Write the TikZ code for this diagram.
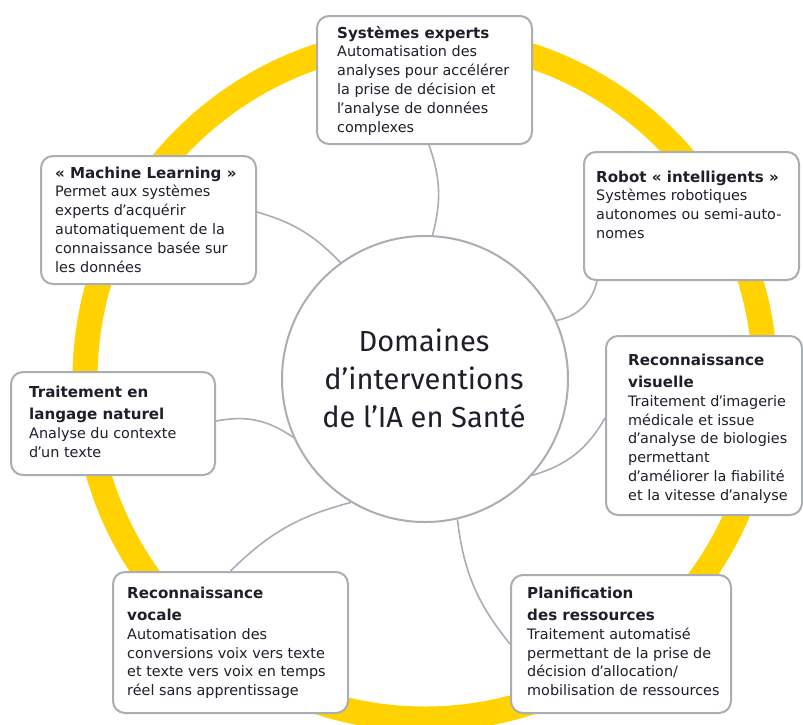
\documentclass[tikz,border=0pt]{standalone}
\usepackage{fontspec}
\setmainfont{DejaVu Sans}
\newfontfamily\centerfont{Fira Sans}
\definecolor{eyyellow}{HTML}{FFD200}
\definecolor{linegray}{HTML}{A8AEB4}
\definecolor{txt}{HTML}{1F1F2B}
\newcommand\ttl[1]{\hbox{\bfseries\fontsize{15.1}{18}\selectfont #1}}
\newcommand\bdy[1]{\hbox{\fontsize{14.4}{18}\selectfont #1}}
\newcommand\gapT{\baselineskip=22.4pt\relax}
\newcommand\gapB{\baselineskip=18.8pt\relax}
\newcommand\cln[1]{\hbox to 0pt{\hss #1\hss}}
\newcommand\ap{\kern-0.07em’\kern-0.05em}
\begin{document}
\begin{tikzpicture}[x=1pt,y=1pt,
  box/.style={draw=linegray, line width=2pt, rounded corners=12pt, fill=white, inner sep=0pt},
  link/.style={draw=linegray, line width=1.6pt},
  desc/.style={anchor=base west, inner sep=0pt, text=txt}
]
\useasboundingbox (0,0) rectangle (803,-724);
\fill[white] (0,0) rectangle (803,-724);
\draw[eyyellow, line width=25pt] (425,-379) circle (340pt);

\node[circle, draw=linegray, line width=2pt, fill=white, minimum size=286pt, inner sep=0pt] (c) at (425,-379) {};
\node[anchor=base, inner sep=0pt, text=txt, font=\centerfont\fontsize{29}{38}\selectfont] (ct) at (424,-351)
  {\vtop{\baselineskip=38pt\cln{Domaines}\cln{d’interventions}\cln{de l’IA en Santé}}};

\node[box, minimum width=215pt, minimum height=128pt] (se) at (424.5,-80) {};
\node[box, minimum width=215pt, minimum height=128pt] (ml) at (148.5,-220) {};
\node[box, minimum width=215pt, minimum height=128pt] (rob) at (691.5,-216) {};
\node[box, minimum width=204pt, minimum height=103pt] (nlp) at (113,-423.5) {};
\node[box, minimum width=196pt, minimum height=179pt] (vis) at (704,-425.5) {};
\node[box, minimum width=235pt, minimum height=141pt] (voc) at (230.5,-642.5) {};
\node[box, minimum width=220pt, minimum height=138pt] (plan) at (621,-644) {};

\node[desc] (tse) at (337,-38) {\vtop{\gapB\ttl{Systèmes experts}\bdy{Automatisation des}\bdy{analyses pour accélérer}\bdy{la prise de décision et}\bdy{l\ap analyse de données}\bdy{complexes}}};
\node[desc] (tml) at (55,-178) {\vtop{\gapB\ttl{«~Machine Learning~»}\bdy{Permet aux systèmes}\bdy{experts d\ap acquérir}\bdy{automatiquement de la}\bdy{connaissance basée sur}\bdy{les données}}};
\node[desc] (trob) at (596,-182) {\vtop{\gapB\ttl{Robot «~intelligents~»}\bdy{Systèmes robotiques}\bdy{autonomes ou semi-auto-}\bdy{nomes}}};
\node[desc] (tnlp) at (29,-397) {\vtop{\gapT\ttl{Traitement en}\ttl{langage naturel}\gapB\bdy{Analyse du contexte}\bdy{d\ap un texte}}};
\node[desc] (tvis) at (628,-365) {\vtop{\gapT\ttl{Reconnaissance}\ttl{visuelle}\gapB\bdy{Traitement d\ap imagerie}\bdy{médicale et issue}\bdy{d\ap analyse de biologies}\bdy{permettant}\bdy{d\ap améliorer la fiabilité}\bdy{et la vitesse d\ap analyse}}};
\node[desc] (tvoc) at (127,-598) {\vtop{\gapT\ttl{Reconnaissance}\ttl{vocale}\gapB\bdy{Automatisation des}\bdy{conversions voix vers texte}\bdy{et texte vers voix en temps}\bdy{réel sans apprentissage}}};
\node[desc] (tplan) at (527,-598) {\vtop{\gapT\ttl{Planification}\ttl{des ressources}\gapB\bdy{Traitement automatisé}\bdy{permettant de la prise de}\bdy{décision d\ap allocation/}\bdy{mobilisation de ressources}}};

\draw[link] ([xshift=4.5pt]se.south) to[bend left=17] (c.87);
\draw[link] ([yshift=8pt]ml.east) to[bend left=15] (c.126);
\draw[link] ([xshift=-94.5pt]rob.south) to[bend left=33] (c.24);
\draw[link] ([yshift=2.5pt]nlp.east) to[bend left=23] (c.204);
\draw[link] ([yshift=7.5pt]vis.west) to[bend left=22] (c.318);
\draw[link] (voc.north) to[bend left=15] (c.239);
\draw[link] (c.283) to[bend right=16] (plan.west);
\end{tikzpicture}
\end{document}
